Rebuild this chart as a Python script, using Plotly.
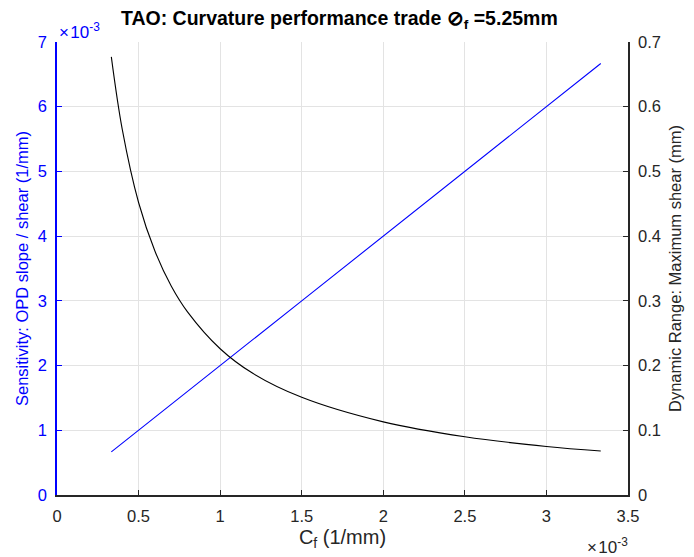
import plotly.graph_objects as go

# Focal curvature C_f (1/mm)
cf = [0.333e-3, 0.4e-3, 0.5e-3, 0.6e-3, 0.7e-3, 0.8e-3, 1.0e-3, 1.2e-3,
      1.5e-3, 2.0e-3, 2.5e-3, 3.0e-3, 3.333e-3]
# Sensitivity: OPD slope / shear (1/mm)
sensitivity = [0.667e-3, 0.8e-3, 1.0e-3, 1.2e-3, 1.4e-3, 1.6e-3, 2.0e-3, 2.4e-3,
               3.0e-3, 4.0e-3, 5.0e-3, 6.0e-3, 6.667e-3]
# Dynamic range: maximum shear (mm)
max_shear = [0.677, 0.565, 0.452, 0.377, 0.323, 0.283, 0.226, 0.188,
             0.151, 0.113, 0.090, 0.075, 0.068]

x_ticks = [0, 0.5e-3, 1e-3, 1.5e-3, 2e-3, 2.5e-3, 3e-3, 3.5e-3]
x_labels = ["0", "0.5", "1", "1.5", "2", "2.5", "3", "3.5"]
yl_ticks = [0, 1e-3, 2e-3, 3e-3, 4e-3, 5e-3, 6e-3, 7e-3]
yl_labels = ["0", "1", "2", "3", "4", "5", "6", "7"]
yr_ticks = [0, 0.1, 0.2, 0.3, 0.4, 0.5, 0.6, 0.7]
yr_labels = ["0", "0.1", "0.2", "0.3", "0.4", "0.5", "0.6", "0.7"]

BLUE = "#0000ff"
DARK = "#262626"
GRID = "#e3e3e3"
FONT = "Liberation Sans, Arial, sans-serif"

fig = go.Figure()
fig.add_trace(go.Scatter(x=cf, y=sensitivity, mode="lines",
                         line=dict(color=BLUE, width=1.1), yaxis="y"))
fig.add_trace(go.Scatter(x=cf, y=max_shear, mode="lines",
                         line=dict(color="black", width=1.1, shape="spline"),
                         yaxis="y2"))

fig.update_layout(
    width=694, height=557,
    margin=dict(l=57, r=64, t=42, b=62),
    paper_bgcolor="white", plot_bgcolor="white",
    showlegend=False,
    font=dict(family=FONT, size=16, color=DARK),
    title=dict(text="<b>TAO: Curvature performance trade \u2298<sub>f</sub> =5.25mm</b>",
               x=0.489, xanchor="center", y=0.968, yanchor="middle",
               font=dict(size=19.5, color="black")),
    xaxis=dict(range=[0, 3.5e-3], tickvals=x_ticks, ticktext=x_labels,
               ticks="inside", ticklen=5, tickcolor=DARK,
               ticklabelstandoff=5, tickfont=dict(size=16.5, color=DARK),
               showline=True, linecolor=DARK, linewidth=1.5,
               showgrid=True, gridcolor=GRID, zeroline=False,
               title=dict(text="C<sub>f</sub> (1/mm)", standoff=6,
                          font=dict(size=20, color=DARK))),
    yaxis=dict(range=[0, 7e-3], tickvals=yl_ticks, ticktext=yl_labels,
               ticks="inside", ticklen=5, tickcolor=BLUE,
               ticklabelstandoff=5, tickfont=dict(size=16.5, color=BLUE),
               showline=True, linecolor=BLUE, linewidth=1.5,
               showgrid=True, gridcolor=GRID, zeroline=False,
               title=dict(text="Sensitivity: OPD slope / shear (1/mm)", standoff=5,
                          font=dict(size=16.5, color=BLUE))),
    yaxis2=dict(range=[0, 0.7], tickvals=yr_ticks, ticktext=yr_labels,
                overlaying="y", side="right",
                ticks="inside", ticklen=5, tickcolor=DARK,
                ticklabelstandoff=5, tickfont=dict(size=16.5, color=DARK),
                showline=True, linecolor=DARK, linewidth=1.5,
                showgrid=False, zeroline=False,
                title=dict(text="Dynamic Range: Maximum shear (mm)", standoff=9,
                           font=dict(size=16.5, color=DARK))),
)

# Exponent multipliers on the left and bottom axes
fig.add_annotation(text="\u00d7\u200a10<sup>-3</sup>", xref="paper", yref="paper",
                   x=0.0, y=1.0, xanchor="left", yanchor="bottom", yshift=-2,
                   showarrow=False, font=dict(size=17, color=BLUE))
fig.add_annotation(text="\u00d7\u200a10<sup>-3</sup>", xref="paper", yref="paper",
                   x=1.0, y=0.0, xanchor="right", yanchor="top", yshift=-38, xshift=2,
                   showarrow=False, font=dict(size=17, color=DARK))

fig.write_html("out.html")
